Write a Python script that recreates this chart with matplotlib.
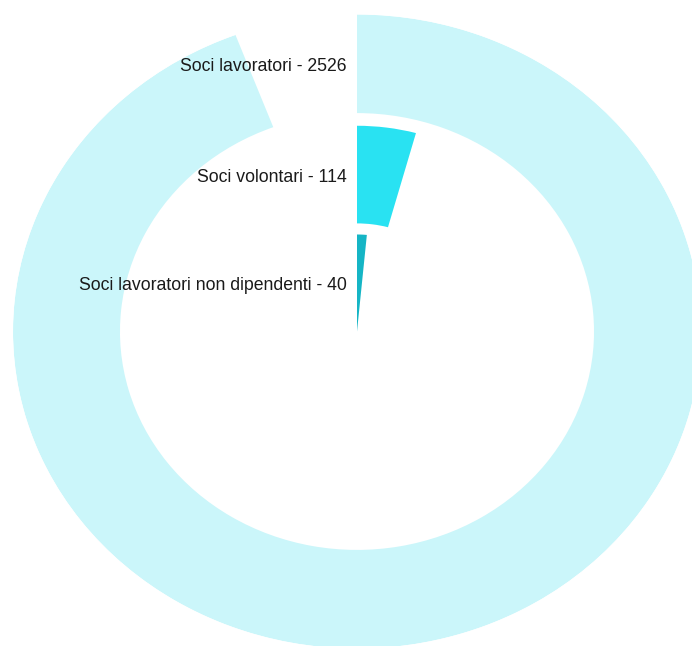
import numpy as np
import matplotlib
matplotlib.use('Agg')
import matplotlib.pyplot as plt

# members by category, outermost ring first
labels = ['Soci lavoratori', 'Soci volontari', 'Soci lavoratori non dipendenti']
values = [2526, 114, 40]
colors = ['#cbf6fa', '#29e2f2', '#15b5c5']

# radial bands (fraction of outer radius): inner edge and thickness
band_bottom = [0.689, 0.341, 0.0]
band_height = [0.311, 0.308, 0.306]

plt.rcParams['font.family'] = ['Liberation Sans', 'DejaVu Sans']

W, H = 692, 646
fig = plt.figure(figsize=(W / 100, H / 100), dpi=100)

# polar axes, slightly squashed vertically
cx, cy = 357, 646 - 331.5
rx, ry = 344, 317
ax = fig.add_axes([(cx - rx) / W, (cy - ry) / H, 2 * rx / W, 2 * ry / H],
                  projection='polar')
ax.set_aspect('auto')
ax.set_theta_zero_location('N')
ax.set_theta_direction(-1)

total = sum(values)
theta = [v / total * 2 * np.pi for v in values]

ax.barh([b + h / 2 for b, h in zip(band_bottom, band_height)], theta,
        height=band_height, left=0, color=colors, align='center',
        edgecolor='none', linewidth=0)

ax.set_ylim(0, 1)
ax.set_xticks([])
ax.set_yticks([])
ax.grid(False)
ax.spines['polar'].set_visible(False)

for lab, v, b, h in zip(labels, values, band_bottom, band_height):
    ax.annotate(f'{lab} - {v}', xy=(0, b + h / 2), xytext=(-10, -3),
                textcoords='offset pixels', ha='right', va='center',
                fontsize=12.7, color='#1a1a1a')

plt.savefig('out.png', dpi=100)
